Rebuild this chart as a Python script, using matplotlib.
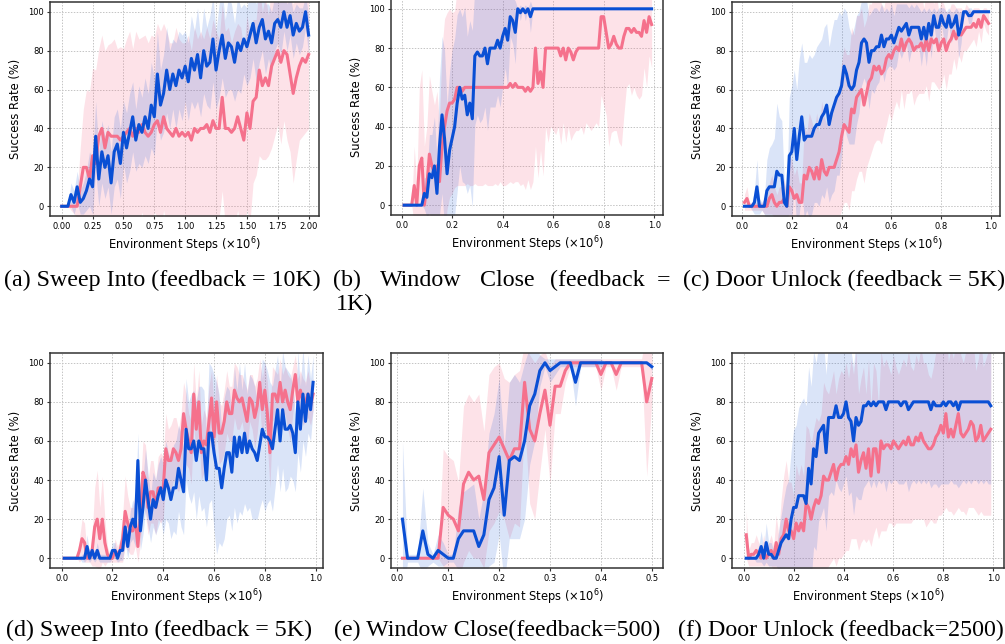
import numpy as np
import matplotlib
matplotlib.use("Agg")
import matplotlib.pyplot as plt

# ---- data ----
# (a) Sweep Into, feedback = 10K
a_steps = np.linspace(0.0, 2.0, 81)
a_blue = [0, 0, 0, 6, 2, 10, 2, 4, 8, 14,
          10, 36, 14, 28, 20, 26, 12, 28, 32, 22,
          38, 30, 38, 46, 34, 42, 38, 46, 40, 52,
          46, 68, 52, 58, 70, 60, 68, 62, 70, 66,
          72, 64, 76, 70, 78, 66, 80, 72, 74, 86,
          70, 80, 88, 76, 84, 82, 74, 84, 80, 86,
          82, 88, 94, 84, 92, 96, 86, 90, 84, 94,
          96, 92, 100, 92, 98, 88, 94, 90, 92, 100,
          88]
a_pink = [0, 0, 0, 0, 0, 0, 10, 20, 20, 14,
          26, 22, 36, 40, 30, 38, 36, 36, 36, 34,
          36, 38, 40, 36, 40, 38, 42, 38, 36, 38,
          42, 44, 38, 46, 40, 38, 36, 40, 36, 38,
          36, 38, 34, 40, 38, 40, 40, 42, 38, 44,
          40, 40, 56, 40, 40, 38, 40, 46, 40, 34,
          48, 40, 54, 56, 70, 62, 66, 62, 72, 76,
          80, 74, 80, 78, 68, 58, 66, 72, 76, 74,
          78]
a_blue_sd = [0, 0, 0, 6, 6, 8, 6, 8, 10, 14,
             14, 18, 14, 16, 16, 16, 16, 18, 18, 18,
             16, 18, 20, 18, 16, 20, 18, 20, 18, 22,
             20, 22, 18, 20, 22, 20, 18, 22, 20, 22,
             18, 20, 22, 20, 24, 20, 22, 20, 24, 22,
             20, 24, 22, 20, 24, 22, 20, 24, 22, 18,
             20, 22, 18, 20, 18, 16, 18, 14, 16, 14,
             12, 14, 10, 12, 10, 12, 10, 12, 10, 8,
             10]
a_pink_sd = [0, 0, 0, 2, 4, 6, 20, 30, 40, 45,
             45, 48, 45, 48, 50, 45, 48, 50, 45, 48,
             45, 48, 50, 45, 50, 48, 45, 50, 48, 50,
             45, 50, 52, 48, 50, 46, 48, 52, 50, 46,
             48, 50, 46, 52, 48, 50, 46, 50, 48, 52,
             50, 46, 48, 50, 52, 46, 50, 48, 52, 46,
             50, 48, 42, 40, 44, 38, 42, 36, 42, 40,
             38, 42, 36, 44, 40, 46, 42, 38, 40, 36,
             38]

# (b) Window Close, feedback = 1K
b_steps = np.arange(1, 100) / 100
b_blue = [0] * 8 + [6, 4, 16, 14, 20, 6, 30, 46, 34, 16,
                    28, 34, 40, 52, 60, 54, 56, 46, 52, 44,
                    76, 78, 76, 76, 80, 72, 80, 80, 80, 84,
                    80, 86, 90, 84, 96, 94, 88, 100, 98, 100,
                    98, 100, 96] + [100] * 48
b_pink = ([0] * 4 + [10, 0, 20, 24, 0, 10, 26, 20, 16, 20,
                     12, 30, 40, 48, 52, 52, 54, 60, 60, 58]
          + [60] * 18
          + [62, 60, 62, 60, 60, 60, 58, 60, 58, 60,
             80, 62, 68, 60, 80, 80, 80, 80, 80, 80,
             76, 80, 74, 80, 78, 74, 78, 80]
          + [80] * 8
          + [96, 96, 88, 80, 82, 86, 82, 80, 80, 86,
             90, 90, 88, 90, 88, 88, 86, 94, 88, 96, 92])
b_blue_sd = [0] * 8 + [8, 10, 20, 22, 25, 18, 35, 40, 45, 35,
                       40, 45, 45, 45, 40, 42, 45, 40, 42, 45,
                       35, 32, 34, 32, 30, 34, 30, 30, 30, 28,
                       30, 26, 20, 24, 10, 12, 16, 0, 4, 0,
                       4, 0, 8] + [0] * 48
b_pink_sd = ([0] * 4 + [20, 10, 40, 45, 30, 30, 40, 38, 35, 38,
                        30, 50, 55, 50, 48, 46, 45, 50, 50, 48]
             + [50, 49, 50, 50, 49, 50, 50, 50, 49, 50,
                50, 50, 49, 50, 48, 50, 50, 49]
             + [50, 49, 50, 48, 50, 49, 50, 47, 50, 48,
                50, 48, 40, 45, 40, 48, 40, 42, 44, 40,
                45, 38, 42, 40, 45, 38, 40, 42]
             + [40, 44, 38, 40, 42, 40, 38, 40]
             + [40, 45, 42, 50, 45, 48, 44, 48, 50, 40,
                30, 28, 32, 30, 32, 34, 30, 24, 28, 20, 22])

# (c) Door Unlock, feedback = 5K
c_steps = np.arange(1, 100) / 100
c_blue = [0, 0, 0, 0, 2, 10, 0, 0, 0, 8,
          10, 10, 10, 18, 16, 16, 2, 0, 26, 28,
          40, 24, 36, 46, 34, 36, 36, 36, 40, 42,
          42, 46, 48, 52, 42, 48, 52, 56, 58, 62,
          72, 68, 62, 60, 62, 70, 74, 84, 86, 84,
          74, 80, 80, 82, 82, 88, 82, 86, 86, 88,
          84, 88, 92, 90, 92, 94, 88, 92, 92, 92,
          92, 86, 92, 86, 94, 88, 98, 92, 92, 98,
          94, 92, 98, 92, 94, 98, 88, 92, 100, 100,
          98, 98, 100, 100, 100, 100, 100, 100, 100]
c_pink = [2, 4, 0, 0, 0, 0, 0, 0, 0, 0,
          4, 6, 2, 0, 2, 2, 4, 0, 10, 8,
          4, 6, 2, 2, 16, 14, 20, 18, 14, 20,
          14, 24, 18, 16, 20, 20, 20, 24, 28, 36,
          42, 40, 38, 50, 48, 56, 58, 60, 52, 58,
          64, 66, 72, 70, 72, 68, 70, 76, 78, 76,
          80, 82, 80, 86, 80, 84, 86, 84, 80, 82,
          82, 84, 80, 86, 80, 86, 84, 86, 80, 84,
          86, 80, 84, 86, 90, 86, 90, 88, 90, 92,
          92, 92, 94, 92, 96, 92, 98, 96, 94]
c_blue_sd = [0, 0, 0, 2, 6, 14, 4, 2, 4, 16,
             20, 22, 25, 35, 30, 28, 10, 6, 30, 34,
             30, 36, 40, 38, 40, 38, 42, 40, 38, 40,
             42, 40, 44, 42, 40, 42, 44, 40, 42, 36,
             30, 32, 30, 28, 30, 28, 26, 22, 20, 22,
             24, 20, 22, 20, 18, 16, 18, 16, 14, 16,
             14, 16, 12, 14, 12, 10, 14, 12, 10, 12,
             10, 14, 10, 14, 8, 12, 4, 8, 10, 4,
             8, 8, 4, 8, 6, 4, 12, 8, 0, 0,
             4, 4, 0, 0, 0, 0, 0, 0, 0]
c_pink_sd = [4, 6, 2, 2, 2, 2, 2, 2, 4, 4,
             8, 10, 8, 6, 8, 8, 10, 6, 16, 16,
             12, 14, 10, 10, 25, 24, 28, 26, 24, 28,
             24, 30, 28, 26, 28, 30, 30, 32, 34, 38,
             40, 38, 40, 42, 40, 42, 40, 42, 40, 38,
             40, 38, 40, 36, 38, 36, 32, 34, 30, 32,
             30, 28, 30, 26, 30, 26, 28, 24, 28, 26,
             24, 26, 22, 24, 26, 22, 20, 24, 20, 22,
             18, 20, 16, 18, 14, 16, 12, 14, 10, 12,
             10, 8, 8, 10, 6, 8, 4, 6, 6]

# (d) Sweep Into, feedback = 5K
d_steps = np.arange(1, 100) / 100
d_blue = [0, 0, 0, 0, 0, 0, 0, 0, 0, 6,
          0, 4, 0, 4, 0, 0, 0, 0, 0, 4,
          4, 0, 4, 4, 16, 6, 16, 20, 16, 50,
          14, 26, 40, 30, 20, 30, 26, 32, 36, 30,
          40, 36, 30, 36, 36, 46, 40, 34, 66, 56,
          56, 60, 50, 60, 56, 56, 40, 64, 64, 54,
          46, 46, 36, 46, 54, 54, 44, 62, 52, 62,
          54, 64, 54, 60, 56, 54, 50, 58, 66, 62,
          62, 60, 56, 66, 76, 60, 76, 66, 66, 68,
          64, 54, 80, 66, 84, 70, 84, 76, 90]
d_pink = [0, 0, 0, 0, 0, 0, 4, 10, 8, 0,
          0, 4, 16, 20, 10, 20, 8, 2, 0, 0,
          4, 2, 4, 10, 24, 18, 14, 14, 20, 6,
          22, 44, 40, 26, 34, 34, 26, 36, 36, 36,
          56, 50, 50, 56, 54, 50, 56, 74, 66, 60,
          54, 84, 66, 80, 54, 60, 58, 70, 82, 62,
          80, 64, 64, 70, 80, 74, 74, 86, 82, 80,
          82, 76, 70, 82, 80, 72, 78, 90, 76, 86,
          74, 54, 84, 84, 80, 90, 80, 86, 80, 76,
          86, 94, 80, 86, 80, 80, 84, 78, 84]
d_blue_sd = [0, 0, 0, 0, 0, 0, 0, 2, 2, 6,
             2, 4, 2, 4, 2, 2, 2, 2, 2, 4,
             4, 2, 5, 5, 8, 6, 8, 10, 10, 14,
             10, 14, 16, 14, 12, 14, 14, 16, 16, 18,
             20, 18, 20, 22, 24, 22, 24, 22, 26, 24,
             28, 26, 30, 28, 32, 30, 24, 36, 34, 40,
             44, 38, 30, 36, 34, 32, 30, 36, 34, 38,
             32, 36, 30, 34, 36, 34, 30, 32, 36, 38,
             34, 30, 32, 30, 28, 26, 30, 32, 30, 26,
             24, 20, 26, 22, 24, 18, 20, 16, 14]
d_pink_sd = [0, 0, 0, 0, 0, 0, 6, 10, 10, 2,
             2, 8, 20, 25, 16, 22, 12, 4, 2, 2,
             6, 4, 6, 12, 18, 14, 12, 12, 14, 8,
             14, 16, 18, 14, 16, 16, 14, 16, 18, 16,
             18, 16, 18, 16, 18, 16, 18, 16, 18, 14,
             16, 16, 14, 16, 14, 16, 14, 18, 14, 16,
             14, 16, 14, 16, 16, 14, 14, 14, 16, 14,
             12, 14, 16, 12, 14, 16, 14, 12, 16, 14,
             16, 18, 14, 12, 14, 12, 14, 12, 14, 16,
             12, 10, 12, 10, 12, 10, 12, 10, 8]

# (e) Window Close, feedback = 500
e_steps = np.arange(1, 51) / 100
e_blue = [20, 0, 0, 0, 14, 2, 0, 4, 2, 0,
          0, 10, 14, 14, 14, 6, 12, 30, 36, 52,
          22, 50, 52, 50, 60, 78, 84, 96, 100, 96,
          98, 100, 100, 100, 90, 100, 100, 100, 100, 100,
          100, 100, 100, 100, 100, 100, 100, 100, 100, 98]
e_pink = [0, 0, 0, 0, 0, 0, 0, 0, 26, 22,
          20, 14, 38, 44, 40, 42, 30, 54, 58, 62,
          56, 50, 56, 56, 90, 66, 60, 74, 86, 68,
          88, 88, 96, 100, 100, 100, 100, 100, 100, 94,
          100, 100, 94, 100, 100, 100, 100, 100, 80, 92]
e_blue_sd = [40, 2, 2, 2, 22, 6, 2, 8, 6, 2,
             2, 16, 20, 22, 24, 14, 22, 34, 38, 40,
             35, 40, 42, 40, 40, 30, 24, 8, 2, 6,
             4, 2, 2, 2, 12, 2, 2, 2, 2, 2,
             0, 0, 0, 0, 0, 0, 0, 0, 0, 2]
e_pink_sd = [0, 0, 0, 0, 0, 0, 0, 0, 30, 30,
             30, 25, 40, 40, 40, 42, 35, 40, 40, 38,
             36, 40, 38, 40, 20, 38, 40, 30, 20, 30,
             14, 14, 6, 2, 2, 2, 2, 2, 2, 8,
             2, 2, 8, 2, 2, 2, 2, 2, 38, 12]

# (f) Door Unlock, feedback = 2500
f_steps = np.arange(1, 100) / 100
f_blue = [0, 0, 0, 0, 0, 2, 6, 0, 8, 2,
          2, 0, 0, 4, 8, 10, 12, 10, 20, 26,
          26, 32, 32, 32, 28, 46, 38, 56, 52, 64,
          66, 68, 54, 72, 72, 72, 78, 72, 72, 74,
          80, 72, 70, 60, 72, 68, 70, 78, 78, 80,
          78, 80, 78, 80, 80, 80, 76, 80, 80, 80,
          80, 80, 78, 80, 80, 76, 78, 80, 80, 80,
          80, 80, 80, 80, 76, 80, 78, 78, 78, 80,
          78, 80, 80, 78, 80, 76, 80, 80, 80, 80,
          80, 80, 80, 80, 80, 80, 80, 80, 78]
f_pink = [12, 0, 2, 2, 4, 2, 0, 4, 0, 2,
          4, 0, 8, 2, 10, 12, 20, 14, 14, 10,
          18, 14, 18, 14, 28, 26, 20, 26, 30, 28,
          32, 42, 40, 40, 44, 48, 40, 46, 48, 48,
          52, 48, 56, 52, 58, 44, 50, 54, 46, 56,
          42, 56, 56, 44, 60, 56, 58, 58, 56, 60,
          58, 56, 58, 60, 58, 62, 58, 58, 62, 60,
          64, 60, 58, 56, 56, 58, 62, 64, 68, 64,
          74, 62, 66, 62, 68, 74, 64, 62, 64, 66,
          70, 68, 60, 62, 68, 60, 62, 64, 66]
f_blue_sd = [0, 0, 0, 0, 2, 4, 8, 4, 10, 6,
             6, 4, 4, 10, 14, 20, 25, 30, 35, 40,
             42, 45, 48, 50, 50, 52, 50, 50, 48, 45,
             44, 42, 40, 40, 38, 40, 38, 36, 38, 36,
             38, 40, 36, 38, 40, 38, 40, 42, 40, 40,
             42, 40, 42, 40, 42, 40, 42, 40, 42, 40,
             40, 42, 40, 42, 40, 42, 40, 40, 42, 40,
             42, 40, 42, 40, 40, 42, 40, 42, 40, 42,
             40, 42, 40, 40, 42, 40, 42, 40, 42, 40,
             42, 40, 40, 42, 40, 42, 40, 42, 40]
f_pink_sd = [12, 4, 6, 6, 8, 6, 4, 8, 4, 6,
             8, 6, 14, 10, 20, 30, 30, 25, 25, 22,
             30, 28, 30, 28, 40, 40, 38, 40, 42, 42,
             42, 48, 46, 44, 46, 48, 44, 46, 48, 46,
             48, 44, 46, 42, 48, 40, 42, 44, 38, 46,
             36, 44, 40, 34, 46, 42, 44, 40, 38, 44,
             40, 38, 40, 42, 40, 44, 40, 38, 42, 40,
             44, 40, 42, 38, 36, 40, 44, 42, 46, 40,
             48, 38, 42, 40, 44, 48, 40, 38, 42, 40,
             44, 42, 36, 40, 44, 38, 40, 42, 44]

captions_top = ["(a) Sweep Into (feedback = 10K)", "(c) Door Unlock (feedback = 5K)"]
caption_b_words = ["(b)", "Window", "Close", "(feedback", "="]
captions_bottom = ["(d) Sweep Into (feedback = 5K)",
                   "(e) Window Close(feedback=500)",
                   "(f) Door Unlock (feedback=2500)"]

BLUE = "#0a4fd4"
PINK = "#f5718c"

W, H = 1005, 644
fig = plt.figure(figsize=(W / 100, H / 100), dpi=100)


def px_axes(left, top, right, bottom):
    return fig.add_axes([left / W, 1 - bottom / H, (right - left) / W, (bottom - top) / H])


def panel(ax, x, pink, pink_sd, blue, blue_sd, xlim, xticks, fmt):
    pink = np.array(pink, float)
    blue = np.array(blue, float)
    pink_sd = np.array(pink_sd, float)
    blue_sd = np.array(blue_sd, float)
    ax.fill_between(x, pink - pink_sd, pink + pink_sd, color=PINK, alpha=0.2, lw=0)
    ax.fill_between(x, blue - blue_sd, blue + blue_sd, color=BLUE, alpha=0.15, lw=0)
    ax.plot(x, pink, color=PINK, lw=2.2)
    ax.plot(x, blue, color=BLUE, lw=2.2)
    ax.set_xlim(*xlim)
    ax.set_ylim(-5, 105)
    ax.set_xticks(xticks)
    ax.set_xticklabels([fmt.format(t) for t in xticks])
    ax.set_yticks([0, 20, 40, 60, 80, 100])
    ax.grid(True, color="#c4c4c4", linestyle=(0, (1.5, 1.5)), lw=0.7)
    ax.set_axisbelow(True)
    for s in ax.spines.values():
        s.set_color("#333333")
        s.set_linewidth(1.1)
    ax.tick_params(labelsize=6.0, length=2.5, width=0.8, color="#333333", pad=2)
    ax.set_xlabel(r"Environment Steps ($\times 10^6$)", fontsize=8.3, labelpad=3)
    ax.set_ylabel("Success Rate (%)", fontsize=8.3, labelpad=4)


ax_a = px_axes(50, 2, 318.5, 216)
panel(ax_a, a_steps, a_pink, a_pink_sd, a_blue, a_blue_sd, (-0.095, 2.08),
      np.arange(0, 2.01, 0.25), "{:.2f}")
ax_b = px_axes(391, -1, 663, 215)
panel(ax_b, b_steps, b_pink, b_pink_sd, b_blue, b_blue_sd, (-0.042, 1.035),
      np.arange(0, 1.01, 0.2), "{:.1f}")
ax_c = px_axes(732, 2, 1000, 216)
panel(ax_c, c_steps, c_pink, c_pink_sd, c_blue, c_blue_sd, (-0.04, 1.036),
      np.arange(0, 1.01, 0.2), "{:.1f}")
ax_d = px_axes(50, 353, 323, 568)
panel(ax_d, d_steps, d_pink, d_pink_sd, d_blue, d_blue_sd, (-0.046, 1.029),
      np.arange(0, 1.01, 0.2), "{:.1f}")
ax_e = px_axes(391, 353, 663, 568)
panel(ax_e, e_steps, e_pink, e_pink_sd, e_blue, e_blue_sd, (-0.0125, 0.522),
      np.arange(0, 0.51, 0.1), "{:.1f}")
ax_f = px_axes(732, 353, 1004, 568)
panel(ax_f, f_steps, f_pink, f_pink_sd, f_blue, f_blue_sd, (-0.047, 1.043),
      np.arange(0, 1.01, 0.2), "{:.1f}")

cap = dict(fontfamily="Liberation Serif", fontsize=17.3, va="baseline", ha="left")
fig.text(4 / W, 1 - 286 / H, captions_top[0], **cap)
for word, xpos in zip(caption_b_words, [333, 380, 480, 550, 657]):
    fig.text(xpos / W, 1 - 286 / H, word, **cap)
fig.text(336 / W, 1 - 310 / H, "1K)", **cap)
fig.text(683 / W, 1 - 286 / H, captions_top[1], **cap)
for txt, xpos in zip(captions_bottom, [6, 334, 678]):
    fig.text(xpos / W, 1 - 636 / H, txt, **cap)

fig.savefig("out.png", dpi=100)
